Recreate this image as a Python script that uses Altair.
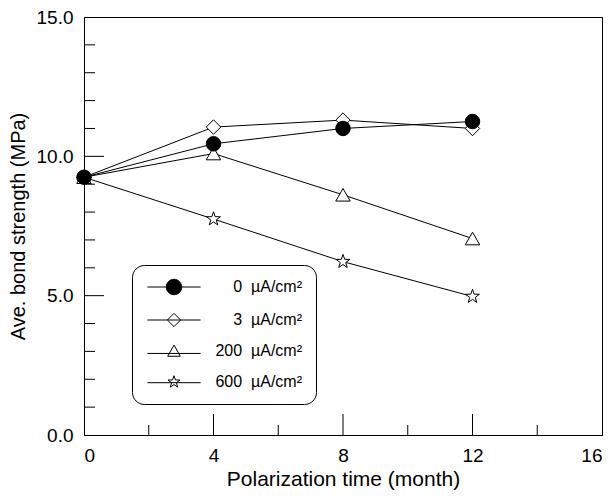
import altair as alt
import pandas as pd

# ---- data ----
months = [0, 4, 8, 12]
NB = "\u00a0"
legend_labels = ["0" + NB * 2 + "µA/cm²", "3" + NB * 2 + "µA/cm²",
                 "200" + NB * 2 + "µA/cm²", "600" + NB * 2 + "µA/cm²"]
vals_0 = [9.25, 10.45, 11.0, 11.25]
vals_3 = [9.25, 11.05, 11.3, 11.0]
vals_200 = [9.25, 10.1, 8.62, 7.05]
vals_600 = [9.25, 7.75, 6.22, 4.97]

x_label_values = [0, 4, 8, 12, 16]
y_label_values = [0, 5, 10, 15]
y_minor_ticks = [1, 2, 3, 4, 6, 7, 8, 9, 11, 12, 13, 14]
y_major_ticks = [5, 10]
x_minor_ticks = [2, 6, 10, 14]
x_major_ticks = [4, 8, 12]

W, H = 518, 418
FONT = "Liberation Sans"

rows = []
# draw order: 600, 200, 3, then 0 on top
for lab, vals in [
    (legend_labels[3], vals_600),
    (legend_labels[2], vals_200),
    (legend_labels[1], vals_3),
    (legend_labels[0], vals_0),
]:
    for m, v in zip(months, vals):
        rows.append({"series": lab, "month": m, "strength": v})
df = pd.DataFrame(rows)

order = legend_labels
xs = alt.Scale(domain=[0, 16], nice=False)
ys = alt.Scale(domain=[0, 15], nice=False)

STAR = ("M0,-1L0.235,-0.324L0.951,-0.309L0.380,0.124L0.588,0.809L0,0.4"
        "L-0.588,0.809L-0.380,0.124L-0.951,-0.309L-0.235,-0.324Z")

x_enc = alt.X("month:Q", scale=xs, axis=alt.Axis(
    values=x_label_values, title="Polarization time (month)", grid=False,
    tickSize=0, labelPadding=11, titlePadding=3, domainColor="black",
    labelFontSize=19, titleFontSize=21, labelFont=FONT, titleFont=FONT,
    labelColor="black", titleColor="black", titleFontWeight="normal"))
y_enc = alt.Y("strength:Q", scale=ys, axis=alt.Axis(
    values=y_label_values, format=".1f", title="Ave. bond strength (MPa)", grid=False,
    tickSize=0, labelPadding=11, titlePadding=8, domainColor="black",
    labelFontSize=19, titleFontSize=20, labelFont=FONT, titleFont=FONT,
    labelColor="black", titleColor="black", titleFontWeight="normal"))

lines = alt.Chart(df).mark_line(color="black", strokeWidth=1).encode(
    x=x_enc, y=y_enc, detail="series:N")

points = alt.Chart(df).mark_point(stroke="black", strokeWidth=1, size=210, opacity=1).encode(
    x="month:Q", y="strength:Q",
    shape=alt.Shape("series:N", sort=order, legend=None,
                    scale=alt.Scale(domain=order, range=["circle", "diamond", "triangle-up", STAR])),
    fill=alt.Fill("series:N", sort=order, legend=None,
                  scale=alt.Scale(domain=order, range=["black", "white", "white", "white"])),
)

L = 3.8
leg_paths = [
    f"M-{L},0L-1.1,0M1.1,0L{L},0M-1.1,0A1.1,1.1 0 1,0 1.1,0A1.1,1.1 0 1,0 -1.1,0Z",
    f"M-{L},0L{L},0M0,-0.95L0.95,0L0,0.95L-0.95,0Z",
    f"M-{L},0.35L{L},0.35M0,-0.85L0.9,0.75L-0.9,0.75Z",
    f"M-{L},0.1L{L},0.1" + "M0,-0.9L0.21,-0.29L0.86,-0.28L0.34,0.11L0.53,0.73L0,0.36L-0.53,0.73L-0.34,0.11L-0.86,-0.28L-0.21,-0.29Z",
]
leg = alt.Legend(title=None, orient="none", legendX=48, legendY=248,
                 strokeColor="black", fillColor="white", cornerRadius=12, padding=14,
                 symbolOffset=20, labelOffset=120, labelAlign="right", rowPadding=14,
                 symbolSize=196, symbolStrokeColor="black", symbolStrokeWidth=1,
                 symbolOpacity=1, labelFont=FONT, labelFontSize=16, labelColor="black")

legend_layer = alt.Chart(df).transform_filter(alt.datum.month < 0).mark_point(
    strokeWidth=1, size=196, opacity=1).encode(
    x="month:Q", y="strength:Q",
    shape=alt.Shape("series:N", sort=order, legend=leg,
                    scale=alt.Scale(domain=order, range=leg_paths)),
    fill=alt.Fill("series:N", sort=order, legend=leg,
                  scale=alt.Scale(domain=order, range=["black", "transparent", "transparent", "transparent"])),
    stroke=alt.Stroke("series:N", sort=order, legend=leg,
                      scale=alt.Scale(domain=order, range=["black", "black", "black", "black"])),
)

ymin_df = pd.DataFrame({"v": y_minor_ticks})
ymaj_df = pd.DataFrame({"v": y_major_ticks})
xmin_df = pd.DataFrame({"v": x_minor_ticks})
xmaj_df = pd.DataFrame({"v": x_major_ticks})

ytick_minor = alt.Chart(ymin_df).mark_rule(color="black", strokeWidth=1).encode(
    y=alt.Y("v:Q", scale=ys), x=alt.value(0), x2=alt.value(11))
ytick_major = alt.Chart(ymaj_df).mark_rule(color="black", strokeWidth=1).encode(
    y=alt.Y("v:Q", scale=ys), x=alt.value(0), x2=alt.value(20))
xtick_minor = alt.Chart(xmin_df).mark_rule(color="black", strokeWidth=1).encode(
    x=alt.X("v:Q", scale=xs), y=alt.value(H), y2=alt.value(H - 10))
xtick_major = alt.Chart(xmaj_df).mark_rule(color="black", strokeWidth=1).encode(
    x=alt.X("v:Q", scale=xs), y=alt.value(H), y2=alt.value(H - 21))

chart = alt.layer(
    ytick_minor, ytick_major, xtick_minor, xtick_major,
    lines, legend_layer, points,
).resolve_scale(shape="independent", fill="independent", stroke="independent").properties(
    width=W, height=H,
    autosize=alt.AutoSizeParams(type="none"),
    padding={"left": 76, "top": 9, "right": 3, "bottom": 60},
    background="white",
).configure_view(stroke="black", strokeWidth=1)

chart.save("out.html", embed_options={"renderer": "svg", "actions": False})
